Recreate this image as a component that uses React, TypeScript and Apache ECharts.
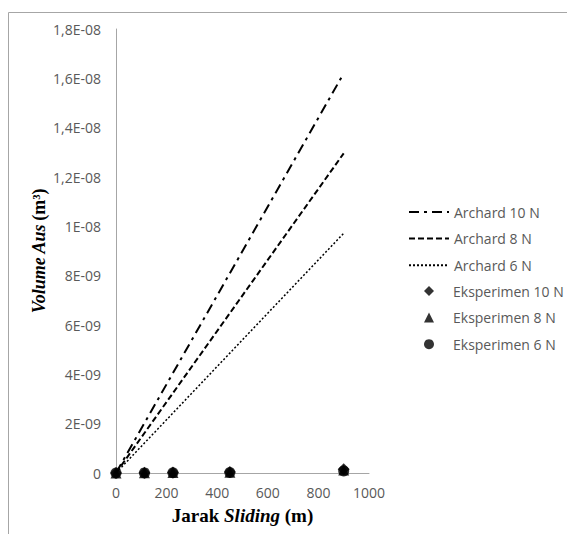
import React, { useEffect, useRef } from "react";
import * as echarts from "echarts";

const distance = [0, 112.5, 225, 450, 900];
const archard10 = [0, 2.025e-9, 4.05e-9, 8.1e-9, 1.62e-8];
const archard8 = [0, 1.62e-9, 3.24e-9, 6.48e-9, 1.296e-8];
const archard6 = [0, 1.215e-9, 2.43e-9, 4.86e-9, 9.72e-9];
const exp10 = [0, 1e-11, 2e-11, 4e-11, 1.5e-10];
const exp8 = [0, 1e-11, 2e-11, 3e-11, 1.2e-10];
const exp6 = [0, 5e-12, 1e-11, 2e-11, 8e-11];

const lineNames = ["Archard 10 N", "Archard 8 N", "Archard 6 N"];
const expNames = ["Eksperimen 10 N", "Eksperimen 8 N", "Eksperimen 6 N"];

function pairs(ys: number[]) {
  return distance.map((x, i) => [x, ys[i]]);
}

function sci(v: number): string {
  if (Math.abs(v) < 1e-20) return "0";
  let e = Math.floor(Math.log10(Math.abs(v)) + 1e-9);
  let m = v / Math.pow(10, e);
  m = Math.round(m * 10) / 10;
  if (m >= 10) {
    m /= 10;
    e += 1;
  }
  const ms = String(m).replace(".", ",");
  const es = (e < 0 ? "-" : "+") + String(Math.abs(e)).padStart(2, "0");
  return ms + "E" + es;
}

export default function App() {
  const ref = useRef<HTMLDivElement>(null);
  useEffect(() => {
    if (!ref.current) return;
    const chart = echarts.init(ref.current, undefined, { renderer: "svg" });
    const labelFont = "'Open Sans', 'Liberation Sans', sans-serif";
    const serif = "'Liberation Serif', 'Times New Roman', serif";
    const legendText = { color: "#595959", fontSize: 14, fontFamily: labelFont };
    chart.setOption({
      animation: false,
      backgroundColor: "#ffffff",
      graphic: [
        {
          type: "rect",
          shape: { x: 8.5, y: 12.5, width: 700, height: 700 },
          style: { fill: "none", stroke: "#a6a6a6", lineWidth: 1 },
          silent: true,
        },
      ],
      grid: { left: 116, right: 198, top: 29, bottom: 61, containLabel: false },
      xAxis: {
        type: "value",
        min: 0,
        max: 1000,
        interval: 200,
        name: "{b|Jarak }{bi|Sliding}{b| (m)}",
        nameLocation: "middle",
        nameGap: 33,
        nameTextStyle: {
          rich: {
            b: { fontFamily: serif, fontWeight: "bold", fontSize: 19, color: "#000" },
            bi: { fontFamily: serif, fontWeight: "bold", fontStyle: "italic", fontSize: 19, color: "#000" },
          },
        },
        axisLine: { show: true, lineStyle: { color: "#a6a6a6", width: 1 } },
        axisTick: { show: false },
        splitLine: { show: false },
        axisLabel: {
          color: "#595959",
          fontSize: 14,
          fontFamily: labelFont,
          margin: 12,
          formatter: (v: number) => String(v),
        },
      },
      yAxis: {
        type: "value",
        min: 0,
        max: 1.8e-8,
        interval: 2e-9,
        name: "{bi|Volume Aus} {b|(m³)}",
        nameLocation: "middle",
        nameGap: 68,
        nameRotate: 90,
        nameTextStyle: {
          rich: {
            b: { fontFamily: serif, fontWeight: "bold", fontSize: 18, color: "#000" },
            bi: { fontFamily: serif, fontWeight: "bold", fontStyle: "italic", fontSize: 18, color: "#000" },
          },
        },
        axisLine: { show: true, lineStyle: { color: "#a6a6a6", width: 1 } },
        axisTick: { show: false },
        splitLine: { show: false },
        axisLabel: {
          color: "#595959",
          fontSize: 14,
          fontFamily: labelFont,
          margin: 15,
          formatter: (v: number) => sci(v),
        },
      },
      legend: [
        {
          data: lineNames,
          orient: "vertical",
          left: 408,
          top: 205,
          padding: 0,
          itemWidth: 40,
          itemHeight: 14,
          itemGap: 12.6,
          itemStyle: { opacity: 0 },
          textStyle: legendText,
        },
        {
          data: expNames,
          orient: "vertical",
          left: 424,
          top: 284,
          padding: 0,
          itemWidth: 10,
          itemHeight: 10,
          itemGap: 12.6,
          textStyle: { ...legendText, padding: [0, 0, 0, 14] },
        },
      ],
      series: [
        {
          name: lineNames[0],
          type: "line",
          data: pairs(archard10),
          symbol: "none",
          lineStyle: { color: "#000", width: 2, type: [10, 5, 3, 5] },
          itemStyle: { color: "#000" },
        },
        {
          name: lineNames[1],
          type: "line",
          data: pairs(archard8),
          symbol: "none",
          lineStyle: { color: "#000", width: 2, type: [6, 3] },
          itemStyle: { color: "#000" },
        },
        {
          name: lineNames[2],
          type: "line",
          data: pairs(archard6),
          symbol: "none",
          lineStyle: { color: "#000", width: 1.5, type: [2, 2] },
          itemStyle: { color: "#000" },
        },
        {
          name: expNames[0],
          type: "scatter",
          data: pairs(exp10),
          symbol: "diamond",
          symbolSize: 12,
          itemStyle: { color: "#000" },
        },
        {
          name: expNames[1],
          type: "scatter",
          data: pairs(exp8),
          symbol: "triangle",
          symbolSize: 11,
          itemStyle: { color: "#000" },
        },
        {
          name: expNames[2],
          type: "scatter",
          data: pairs(exp6),
          symbol: "circle",
          symbolSize: 11,
          itemStyle: { color: "#000" },
        },
      ],
    });
    return () => chart.dispose();
  }, []);
  return (
    <div
      ref={ref}
      style={{ position: "fixed", left: 0, top: 0, width: 567, height: 534, background: "#fff" }}
    />
  );
}
